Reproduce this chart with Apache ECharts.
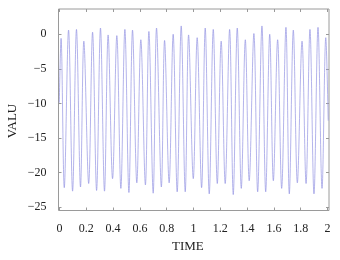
<!DOCTYPE html>
<html>
<head>
<meta charset="utf-8">
<script src="https://cdn.jsdelivr.net/npm/echarts@6/dist/echarts.min.js"></script>
<style>
  html, body { margin: 0; padding: 0; background: #fff; }
  #chart { width: 340px; height: 260px; }
</style>
</head>
<body>
<div id="chart"></div>
<script>
// values (peaks and troughs of the trace)
const startPoint = [0, -9.9];
const endPoint = [2.005, -12.5];

const peakTime = [0.013, 0.069, 0.128, 0.183, 0.248, 0.307, 0.364, 0.429, 0.489, 0.546,
  0.608, 0.668, 0.725, 0.785, 0.849, 0.909, 0.964, 1.028, 1.088, 1.148,
  1.207, 1.270, 1.327, 1.387, 1.451, 1.511, 1.569, 1.628, 1.690, 1.745,
  1.810, 1.869, 1.929, 1.987];
const peakValue = [-0.6, 0.6, 0.7, -1.0, 0.3, 0.9, -0.1, -0.2, 0.7, 0.6,
  -0.8, 0.4, 0.9, -0.9, 0.0, 1.2, -0.1, -0.5, 0.9, 0.7,
  -1.0, 0.7, 0.9, -0.8, 0.1, 1.2, 0.0, -0.8, 1.0, 0.6,
  -1.0, 0.7, 1.0, -0.5];

const troughTime = [0.037, 0.099, 0.158, 0.219, 0.278, 0.337, 0.397, 0.459, 0.519, 0.578,
  0.642, 0.700, 0.761, 0.819, 0.879, 0.939, 0.999, 1.061, 1.118, 1.178,
  1.237, 1.297, 1.357, 1.416, 1.479, 1.539, 1.596, 1.658, 1.715, 1.775,
  1.840, 1.899, 1.959];
const troughValue = [-22.2, -22.7, -22.1, -21.6, -22.6, -22.7, -20.9, -22.3, -22.9, -21.5,
  -21.8, -23.0, -22.1, -21.5, -22.8, -22.8, -20.9, -22.2, -23.1, -21.6,
  -21.6, -23.2, -22.3, -21.2, -22.8, -22.8, -21.2, -22.3, -23.1, -21.5,
  -21.6, -23.1, -22.3];

const xTicks = { min: 0, max: 2, interval: 0.2 };
const yTicks = { min: -25, max: 0, interval: 5 };

// merge peaks and troughs into one trace, in time order
const trace = [startPoint];
peakTime.forEach((t, i) => {
  trace.push([t, peakValue[i]]);
  if (i < troughTime.length) trace.push([troughTime[i], troughValue[i]]);
});
trace.push(endPoint);

const fontFamily = "'Liberation Serif', 'DejaVu Serif', serif";
const frameColor = "#9a9a9a";
const textColor = "#222";
const minus = (v) => String(v).replace("-", "\u2212");

const chart = echarts.init(document.getElementById("chart"), null, { renderer: "canvas" });

const tickStyle = { show: true, inside: true, length: 3, lineStyle: { color: frameColor, width: 1 } };

chart.setOption({
  animation: false,
  backgroundColor: "#fff",
  grid: [
    // frame + data
    { left: 58.5, right: 11, top: 9, bottom: 49.5, show: true, borderColor: frameColor, borderWidth: 1, backgroundColor: "transparent" },
    // x ticks
    { left: 59.5, right: 12.5, top: 9, bottom: 49.5 },
    // y ticks
    { left: 58.5, right: 11, top: 34.3, bottom: 52.7 },
  ],
  xAxis: [
    { gridIndex: 0, type: "value", min: -0.006, max: 2.011, show: false },
    {
      gridIndex: 1, type: "value", position: "bottom",
      min: xTicks.min, max: xTicks.max, interval: xTicks.interval,
      axisLine: { show: false }, splitLine: { show: false },
      axisTick: tickStyle,
      axisLabel: { margin: 12, color: textColor, fontFamily, fontSize: 12, formatter: minus },
    },
    {
      gridIndex: 1, type: "value", position: "top",
      min: xTicks.min, max: xTicks.max, interval: xTicks.interval,
      axisLine: { show: false }, splitLine: { show: false },
      axisTick: tickStyle, axisLabel: { show: false },
    },
    { gridIndex: 2, type: "value", min: 0, max: 1, show: false },
  ],
  yAxis: [
    { gridIndex: 0, type: "value", min: -25.5, max: 3.65, show: false },
    { gridIndex: 1, type: "value", min: 0, max: 1, show: false },
    {
      gridIndex: 2, type: "value", position: "left",
      min: yTicks.min, max: yTicks.max, interval: yTicks.interval,
      axisLine: { show: false }, splitLine: { show: false },
      axisTick: tickStyle,
      axisLabel: { margin: 12, color: textColor, fontFamily, fontSize: 12, formatter: minus },
    },
    {
      gridIndex: 2, type: "value", position: "right",
      min: yTicks.min, max: yTicks.max, interval: yTicks.interval,
      axisLine: { show: false }, splitLine: { show: false },
      axisTick: tickStyle, axisLabel: { show: false },
    },
  ],
  graphic: [
    {
      type: "text", left: 172, top: 240,
      style: { text: "TIME", fill: textColor, font: "13px " + fontFamily },
    },
    {
      type: "text", x: 13, y: 121, rotation: Math.PI / 2,
      style: { text: "VALU", fill: textColor, font: "13px " + fontFamily, align: "center", verticalAlign: "middle" },
    },
  ],
  series: [
    {
      type: "line",
      xAxisIndex: 0,
      yAxisIndex: 0,
      data: trace,
      showSymbol: false,
      smooth: 0.35,
      lineStyle: { color: "#9494e2", width: 0.7 },
    },
  ],
});
</script>
</body>
</html>
